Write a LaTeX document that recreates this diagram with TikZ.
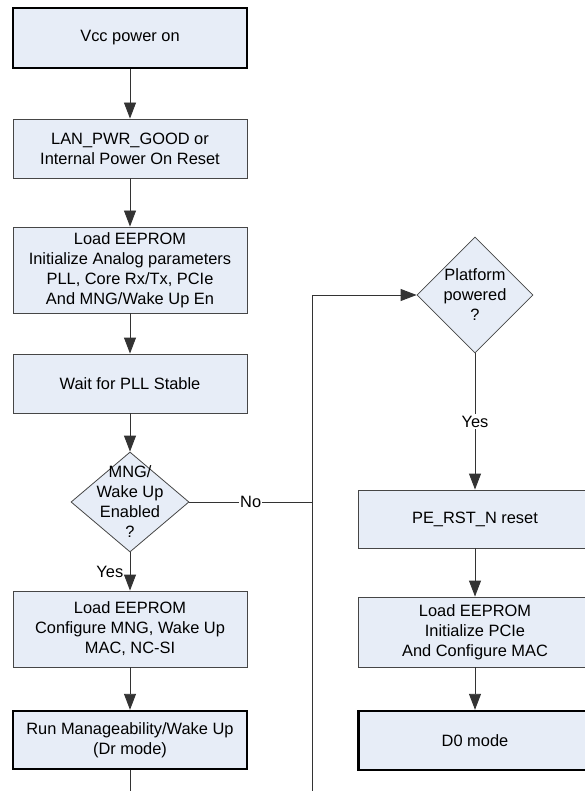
\documentclass[tikz,border=0pt]{standalone}
\usepackage{fontspec}
\setmainfont{Liberation Sans}
\usetikzlibrary{arrows.meta,shapes.geometric}
\definecolor{boxfill}{RGB}{231,237,247}
\definecolor{edge}{RGB}{70,70,70}
\begin{document}
\begin{tikzpicture}[x=1pt,y=-1pt,
  font=\fontsize{16.4}{20}\selectfont,
  stepbox/.style={draw=edge,fill=boxfill,line width=0.9pt,minimum width=234pt,align=center,inner sep=0pt},
  endbox/.style={stepbox,draw=black,line width=2.4pt},
  decide/.style={diamond,draw=edge,fill=boxfill,line width=0.8pt,inner sep=0pt},
  flow/.style={draw=black!80,line width=0.9pt},
  tip/.style={-{Triangle[length=16pt,width=12pt]}}
]
\useasboundingbox (0,0) rectangle (584,791);

% Left column: power-up sequence
\node[endbox,minimum height=60pt] (vcc) at (130,38) {Vcc power on};
\node[stepbox,minimum height=59pt] (lan) at (130,148.5) {LAN\_PWR\_GOOD or\\Internal Power On Reset};
\node[stepbox,minimum height=86pt] (eep) at (130,270) {Load EEPROM\\Initialize Analog parameters\\PLL, Core Rx/Tx, PCIe\\And MNG/Wake Up En};
\node[stepbox,minimum height=59pt] (pll) at (130,383.5) {Wait for PLL Stable};
\node[decide,minimum width=118pt,minimum height=100pt,
  label={[align=center]center:MNG/\\Wake Up\\Enabled\\?}] (mng) at (130,502) {};
\node[stepbox,minimum height=76pt] (cfg) at (130,629) {Load EEPROM\\Configure MNG, Wake Up\\MAC, NC-SI};
\node[endbox,minimum height=58pt] (run) at (130,740) {Run Manageability/Wake Up\\(Dr mode)};

% Right column: platform power
\node[decide,minimum width=116pt,minimum height=116pt,
  label={[align=center]center:Platform\\powered\\?}] (plat) at (475,295) {};
\node[stepbox,minimum width=233pt,minimum height=58pt] (pe) at (475,519) {PE\_RST\_N reset};
\node[stepbox,minimum width=233pt,minimum height=70pt] (pci) at (475,632) {Load EEPROM\\Initialize PCIe\\And Configure MAC};
\node[endbox,minimum width=233pt,minimum height=59pt] (d0) at (475,740.5) {D0 mode};

\coordinate (jn) at (312,502);
\coordinate (endR) at (312,791);
\coordinate (endL) at (130,791);

% Connectors
\draw[flow,tip] (vcc) -- (lan);
\draw[flow,tip] (lan) -- (eep);
\draw[flow,tip] (eep) -- (pll);
\draw[flow,tip] (pll) -- (mng);
\draw[flow,tip] (mng) -- node[left,xshift=-3pt] {Yes} (cfg);
\draw[flow,tip] (cfg) -- (run);
\draw[flow] (run) -- (endL);
\draw[flow] (mng.east) -- node[fill=white,inner sep=1pt] {No} (jn);
\draw[flow,tip] (endR) |- (plat.west);
\draw[flow,tip] (plat) -- node[fill=white,inner sep=2pt] {Yes} (pe);
\draw[flow,tip] (pe) -- (pci);
\draw[flow,tip] (pci) -- (d0);
\end{tikzpicture}
\end{document}
